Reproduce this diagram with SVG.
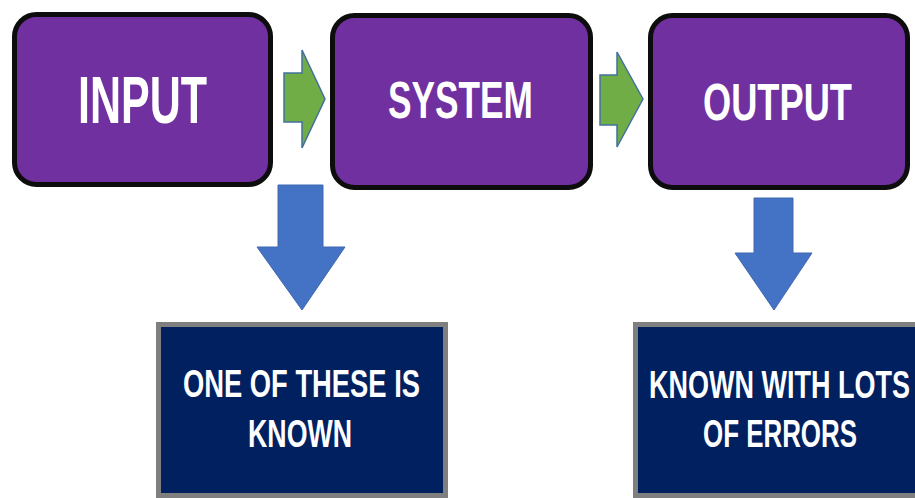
<svg xmlns="http://www.w3.org/2000/svg" width="915" height="498" viewBox="0 0 915 498">
<style>
.proc{fill:#7030A0;stroke:#0d0d0d;stroke-width:5}
.note{fill:#002060;stroke:#7f7f7f;stroke-width:5}
.garrow{fill:#70AD47;stroke:#41719C;stroke-width:1.5}
.barrow{fill:#4472C4;stroke:#3f68b0;stroke-width:1}
text{font-family:"Liberation Sans",Arial,sans-serif;fill:#ffffff;text-anchor:middle;font-weight:bold}
.big{font-size:66px}
.mid{font-size:52px}
.small{font-size:39px}
</style>
<rect width="915" height="498" fill="#ffffff"/>
<g id="input">
<rect class="proc" x="14.5" y="14.5" width="256" height="170" rx="22"/>
<text class="big" x="142.5" y="123" textLength="129" lengthAdjust="spacingAndGlyphs">INPUT</text>
</g>
<g id="system">
<rect class="proc" x="332.5" y="15.5" width="258" height="172" rx="22"/>
<text class="mid" x="460.5" y="118" textLength="145" lengthAdjust="spacingAndGlyphs">SYSTEM</text>
</g>
<g id="output">
<rect class="proc" x="650.5" y="15.5" width="257" height="172" rx="22"/>
<text class="mid" x="777.5" y="120" textLength="149" lengthAdjust="spacingAndGlyphs">OUTPUT</text>
</g>
<g id="note-input">
<rect class="note" x="158.5" y="324.5" width="287" height="171"/>
<text class="small" x="301.5" y="397" textLength="237" lengthAdjust="spacingAndGlyphs">ONE OF THESE IS</text>
<text class="small" x="300" y="447" textLength="104" lengthAdjust="spacingAndGlyphs">KNOWN</text>
</g>
<g id="note-output">
<rect class="note" x="635.5" y="324.5" width="282" height="171"/>
<text class="small" x="779.5" y="398" textLength="261" lengthAdjust="spacingAndGlyphs">KNOWN WITH LOTS</text>
<text class="small" x="780" y="447" textLength="154" lengthAdjust="spacingAndGlyphs">OF ERRORS</text>
</g>
<g id="connectors">
<polygon class="garrow" points="284,73 302,73 302,50 325,99 302,148 302,122 284,122"/>
<polygon class="garrow" points="600,75 617,75 617,52 643,99 617,147 617,125 600,125"/>
<polygon class="barrow" points="278,185 323,185 323,247 345,247 302,310 257,247 278,247"/>
<polygon class="barrow" points="754,198 793,198 793,253 812,253 774,310 735,253 754,253"/>
</g>
</svg>
